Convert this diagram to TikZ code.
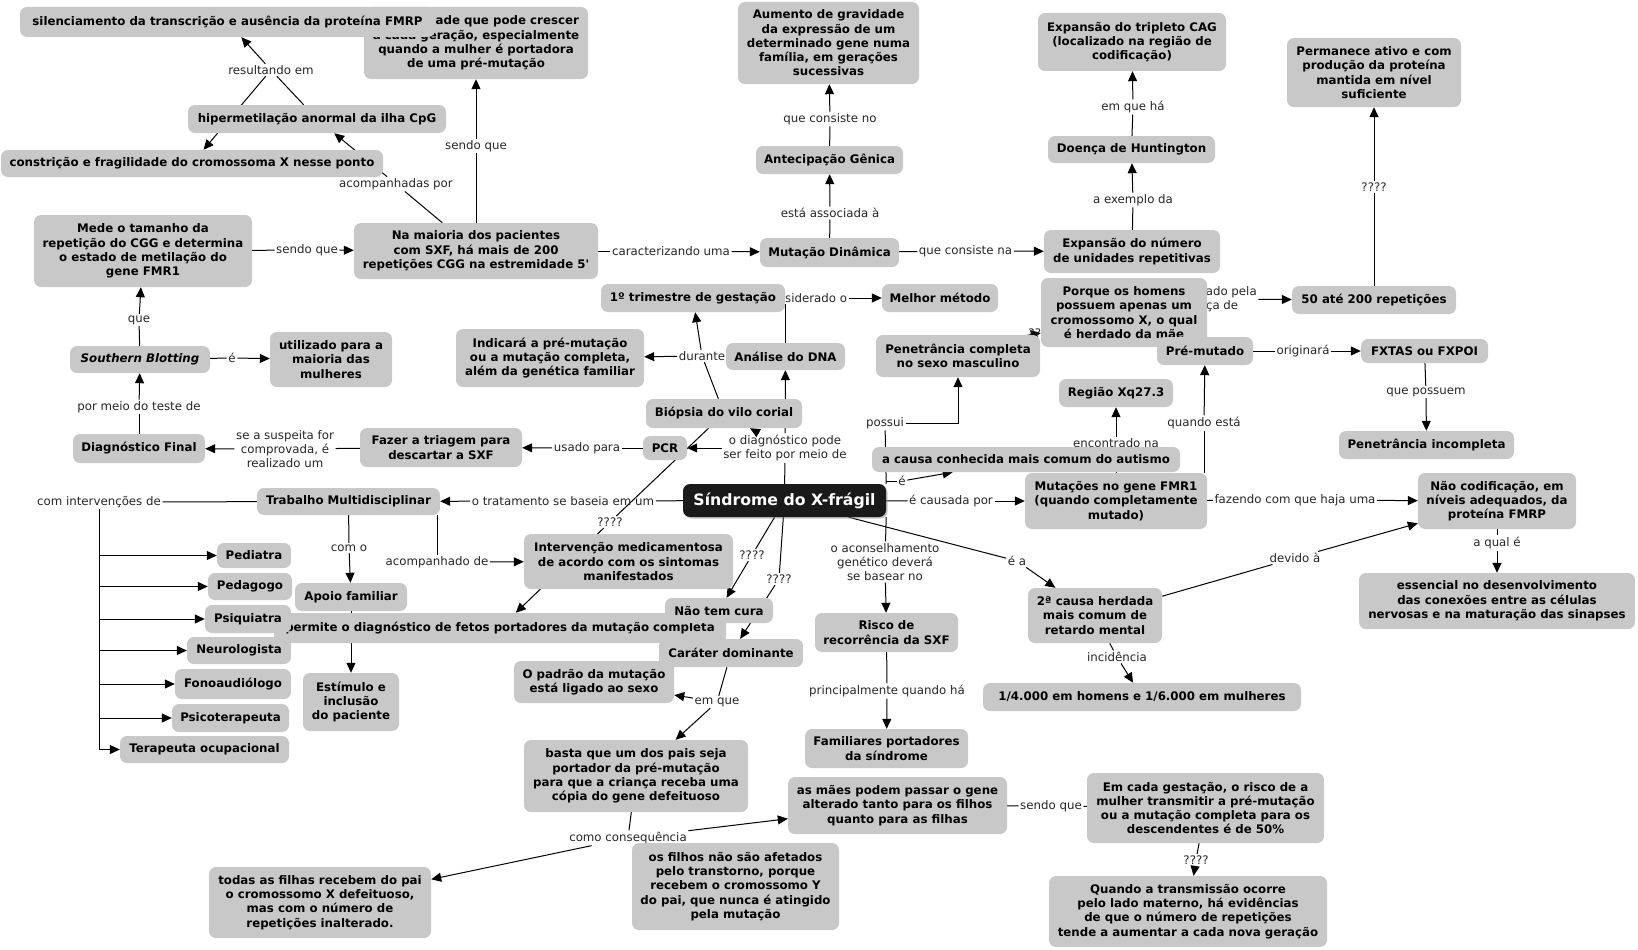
\documentclass[tikz,border=0pt]{standalone}
\usepackage{fontspec}
\setmainfont{DejaVu Sans}
\usetikzlibrary{arrows.meta,shadows}
\definecolor{conceptgray}{RGB}{200,200,200}
\definecolor{rootblack}{RGB}{26,26,26}
\tikzstyle{concept} = [rectangle, rounded corners=7pt, fill=conceptgray, inner sep=0pt,
    align=center, font=\bfseries\fontsize{11.8}{14.3}\selectfont]
\tikzstyle{root} = [concept, fill=rootblack, text=white, font=\bfseries\fontsize{15.7}{18}\selectfont,
    drop shadow={shadow xshift=1.5pt, shadow yshift=-1.5pt, fill=black!45}]
\tikzstyle{link} = [inner sep=1.5pt, align=center, text=black!85, font=\fontsize{11.8}{14.3}\selectfont]
\tikzstyle{joint} = [draw, line width=1pt]
\tikzstyle{line} = [draw, line width=1pt, -{Triangle[length=10pt,width=9pt]}]
\tikzset{wh/.style 2 args={minimum width=#1pt, minimum height=#2pt}}
\pgfdeclarelayer{bg}
\pgfsetlayers{bg,main}

\begin{document}
\begin{tikzpicture}[x=1pt, y=-1pt]
    \useasboundingbox (0,0) rectangle (1638,950);
    % Place linking phrases
    \node [link] (resultando) at (271,70) {resultando em};
    \node [link] (acompanhadas) at (396,184) {acompanhadas por};
    \node [link] (sendoque1) at (307,250) {sendo que};
    \node [link] (sendoque2) at (476,146) {sendo que};
    \node [link] (caracterizando) at (671,251) {caracterizando uma};
    \node [link] (associada) at (830,213) {está associada à};
    \node [link] (consisteno) at (830,119) {que consiste no};
    \node [link] (consistena) at (965.5,251) {que consiste na};
    \node [link] (exemplo) at (1133,200) {a exemplo da};
    \node [link] (emqueha) at (1133,107) {em que há};
    \node [link] (qqq1) at (1374,187) {????};
    \node [link] (caracterizado) at (1202,299) {caracterizado pela\\presença de};
    \node [link] (considerado) at (805.5,298) {considerado o};
    \node [link] (durante) at (702,356) {durante};
    \node [link] (odiag) at (785,448) {o diagnóstico pode\\ser feito por meio de};
    \node [link] (usado) at (587,448) {usado para};
    \node [link] (suspeita) at (285,449) {se a suspeita for\\comprovada, é\\realizado um};
    \node [link] (pormeio) at (139,407) {por meio do teste de};
    \node [link] (queSB) at (139,320) {que};
    \node [link] (eSB) at (232,358) {é};
    \node [link] (tratamento) at (563,501) {o tratamento se baseia em um};
    \node [link] (cominterv) at (99,502) {com intervenções de};
    \node [link] (como) at (349,548) {com o};
    \node [link] (acompde) at (437,562) {acompanhado de};
    \node [link] (qqq2) at (610,522) {????};
    \node [link] (qqq3) at (752,555) {????};
    \node [link] (qqq4) at (779,579) {????};
    \node [link] (emque) at (717,702) {em que};
    \node [link] (consequencia) at (628,838) {como consequência};
    \node [link] (sendoque3) at (1051,806) {sendo que};
    \node [link] (qqq5) at (1196,860) {????};
    \node [link] (principalmente) at (887,691) {principalmente quando há};
    \node [link] (aconselh) at (885,562) {o aconselhamento\\genético deverá\\se basear no};
    \node [link] (possui) at (885,423) {possui};
    \node [link] (eaut) at (902,481) {é};
    \node [link] (causada) at (951,501) {é causada por};
    \node [link] (ea) at (1017,561) {é a};
    \node [link] (qqq6) at (1041,333) {????};
    \node [link] (encontrado) at (1116,443) {encontrado na};
    \node [link] (quandoesta) at (1204,423) {quando está};
    \node [link] (originara) at (1303,351) {originará};
    \node [link] (quepossuem) at (1426,392) {que possuem};
    \node [link] (fazendo) at (1295,500) {fazendo com que haja uma};
    \node [link] (devido) at (1295,558) {devido à};
    \node [link] (aqual) at (1497,543) {a qual é};
    \node [link] (incidencia) at (1117,657) {incidência};
    % Place concepts
    \node [concept, wh={224}{72}] (instab) at (476,43) {Instabilidade que pode crescer\\a cada geração, especialmente\\quando a mulher é portadora\\de uma pré-mutação};
    \node [concept, wh={415}{30}] (silenc) at (227.5,22) {silenciamento da transcrição e ausência da proteína FMRP};
    \node [concept, wh={258}{28}] (hiperm) at (317,119) {hipermetilação anormal da ilha CpG};
    \node [concept, wh={382}{27}] (constr) at (192,163.5) {constrição e fragilidade do cromossoma X nesse ponto};
    \node [concept, wh={218}{72}] (mede) at (143,251) {Mede o tamanho da\\repetição do CGG e determina\\o estado de metilação do\\gene FMR1};
    \node [concept, wh={244}{56}] (maioria) at (476,251) {Na maioria dos pacientes\\com SXF, há mais de 200\\repetições CGG na estremidade 5\textquotesingle};
    \node [concept, wh={139}{29}] (mutdin) at (829.5,252.5) {Mutação Dinâmica};
    \node [concept, wh={147}{28}] (antecip) at (829.5,160) {Antecipação Gênica};
    \node [concept, wh={181}{82}] (aumento) at (828.5,43) {Aumento de gravidade\\da expressão de um\\determinado gene numa\\família, em gerações\\sucessivas};
    \node [concept, wh={176}{43}] (expnum) at (1132,251.5) {Expansão do número\\de unidades repetitivas};
    \node [concept, wh={167}{27}] (hunting) at (1131.5,149.5) {Doença de Huntington};
    \node [concept, wh={188}{58}] (cag) at (1132,42) {Expansão do tripleto CAG\\(localizado na região de\\codificação)};
    \node [concept, wh={174}{69}] (permanece) at (1374,72.5) {Permanece ativo e com\\produção da proteína\\mantida em nível\\suficiente};
    \node [concept, wh={164}{28}] (rep50) at (1374,300) {50 até 200 repetições};
    \node [concept, wh={184}{28}] (trimestre) at (693,298) {1º trimestre de gestação};
    \node [concept, wh={116}{28}] (melhor) at (940,298) {Melhor método};
    \node [concept, wh={119}{27}] (analise) at (785.5,356.5) {Análise do DNA};
    \node [concept, wh={188}{58}] (indicara) at (550,358) {Indicará a pré-mutação\\ou a mutação completa,\\além da genética familiar};
    \node [concept, wh={156}{29}] (biopsia) at (724,413.5) {Biópsia do vilo corial};
    \node [concept, wh={44}{24}] (pcr) at (665,448) {PCR};
    \node [concept, wh={162}{39}] (fazer) at (441,447.5) {Fazer a triagem para\\descartar a SXF};
    \node [concept, wh={132}{29}] (diagfinal) at (139,448.5) {Diagnóstico Final};
    \node [concept, wh={140}{27}] (southern) at (140,359.5) {\textit{Southern Blotting}};
    \node [concept, wh={122}{55}] (utilizado) at (331,359.5) {utilizado para a\\maioria das\\mulheres};
    \node [concept, wh={183}{27}] (trabalho) at (348.5,501.5) {Trabalho Multidisciplinar};
    \node [concept, wh={112}{28}] (apoio) at (351,597) {Apoio familiar};
    \node [concept, wh={452}{30}] (permite) at (500,628) {permite o diagnóstico de fetos portadores da mutação completa};
    \node [concept, wh={74}{25}] (pediatra) at (254,555.5) {Pediatra};
    \node [concept, wh={84}{27}] (pedagogo) at (250,586.5) {Pedagogo};
    \node [concept, wh={86}{28}] (psiquiatra) at (248,619) {Psiquiatra};
    \node [concept, wh={104}{27}] (neuro) at (239,650.5) {Neurologista};
    \node [concept, wh={116}{30}] (fono) at (233,684) {Fonoaudiólogo};
    \node [concept, wh={117}{28}] (psicot) at (230.5,718) {Psicoterapeuta};
    \node [concept, wh={169}{27}] (terapeuta) at (204.5,749.5) {Terapeuta ocupacional};
    \node [concept, wh={96}{58}] (estimulo) at (351,702) {Estímulo e\\inclusão\\do paciente};
    \node [concept, wh={209}{55}] (interv) at (628.5,561.5) {Intervenção medicamentosa\\de acordo com os sintomas\\manifestados};
    \node [concept, wh={108}{25}] (naocura) at (719,610.5) {Não tem cura};
    \node [concept, wh={144}{28}] (carater) at (731,653) {Caráter dominante};
    \node [concept, wh={160}{42}] (padrao) at (594,682) {O padrão da mutação\\está ligado ao sexo};
    \node [concept, wh={224}{72}] (basta) at (636,776) {basta que um dos pais seja\\portador da pré-mutação\\para que a criança receba uma\\cópia do gene defeituoso};
    \node [concept, wh={222}{71}] (todas) at (320,902.5) {todas as filhas recebem do pai\\o cromossomo X defeituoso,\\mas com o número de\\repetições inalterado.};
    \node [concept, wh={207}{87}] (filhos) at (735.5,886.5) {os filhos não são afetados\\pelo transtorno, porque\\recebem o cromossomo Y\\do pai, que nunca é atingido\\pela mutação};
    \node [concept, wh={219}{57}] (maes) at (897.5,805.5) {as mães podem passar o gene\\alterado tanto para os filhos\\quanto para as filhas};
    \node [concept, wh={237}{70}] (emcada) at (1205.5,808) {Em cada gestação, o risco de a\\mulher transmitir a pré-mutação\\ou a mutação completa para os\\descendentes é de 50\%};
    \node [concept, wh={278}{71}] (quando) at (1188,911.5) {Quando a transmissão ocorre\\pelo lado materno, há evidências\\de que o número de repetições\\tende a aumentar a cada nova geração};
    \node [concept, wh={143}{39}] (risco) at (886.5,632.5) {Risco de\\recorrência da SXF};
    \node [concept, wh={163}{39}] (familiares) at (886.5,748.5) {Familiares portadores\\da síndrome};
    \node [concept, wh={134}{55}] (segunda) at (1095,615.5) {2ª causa herdada\\mais comum de\\retardo mental};
    \node [concept, wh={318}{28}] (taxa) at (1142,697) {1/4.000 em homens e 1/6.000 em mulheres};
    \node [concept, wh={164}{42}] (penetc) at (958,356) {Penetrância completa\\no sexo masculino};
    \node [concept, wh={166}{69}] (porque) at (1124,312.5) {Porque os homens\\possuem apenas um\\cromossomo X, o qual\\é herdado da mãe};
    \node [concept, wh={96}{28}] (premut) at (1205,351) {Pré-mutado};
    \node [concept, wh={127}{24}] (fxtas) at (1424.5,351) {FXTAS ou FXPOI};
    \node [concept, wh={175}{28}] (penetinc) at (1426.5,445) {Penetrância incompleta};
    \node [concept, wh={114}{28}] (regiao) at (1116,393) {Região Xq27.3};
    \node [concept, wh={308}{25}] (autismo) at (1026,459.5) {a causa conhecida mais comum do autismo};
    \node [concept, wh={182}{56}] (mutacoes) at (1116,501) {Mutações no gene FMR1\\(quando completamente\\mutado)};
    \node [concept, wh={158}{56}] (naocod) at (1497,501) {Não codificação, em\\níveis adequados, da\\proteína FMRP};
    \node [concept, wh={276}{56}] (essencial) at (1497,601) {essencial no desenvolvimento\\das conexões entre as células\\nervosas e na maturação das sinapses};
    \node [root, wh={203}{33}] (sindrome) at (784.5,500.5) {Síndrome do X-frágil};
    % Draw edges
    \begin{pgfonlayer}{bg}
    \path [joint] (hiperm) -- (resultando);
    \path [line] (resultando) -- (silenc);
    \path [line] (resultando) -- (constr);
    \path [joint] (maioria) -- (acompanhadas);
    \path [line] (acompanhadas) -- (hiperm);
    \path [joint] (mede) -- (sendoque1);
    \path [line] (sendoque1) -- (maioria);
    \path [joint] (maioria) -- (sendoque2);
    \path [line] (sendoque2) -- (instab);
    \path [joint] (maioria) -- (caracterizando);
    \path [line] (caracterizando) -- (mutdin);
    \path [joint] (mutdin) -- (associada);
    \path [line] (associada) -- (antecip);
    \path [joint] (antecip) -- (consisteno);
    \path [line] (consisteno) -- (aumento);
    \path [joint] (mutdin) -- (consistena);
    \path [line] (consistena) -- (expnum);
    \path [joint] (expnum) -- (exemplo);
    \path [line] (exemplo) -- (hunting);
    \path [joint] (hunting) -- (emqueha);
    \path [line] (emqueha) -- (cag);
    \path [joint] (rep50) -- (qqq1);
    \path [line] (qqq1) -- (permanece);
    \path [joint] (premut) -- (caracterizado);
    \path [line] (caracterizado) -- (rep50);
    \path [joint] (premut) -- (originara);
    \path [line] (originara) -- (fxtas);
    \path [joint] (fxtas) -- (quepossuem);
    \path [line] (quepossuem) -- (penetinc);
    \path [joint] (mutacoes.north -| quandoesta) -- (quandoesta);
    \path [line] (quandoesta) -- (premut);
    \path [joint] (mutacoes) -- (encontrado);
    \path [line] (encontrado) -- (regiao);
    \path [joint] (mutacoes) -- (fazendo);
    \path [line] (fazendo) -- (naocod);
    \path [joint] (naocod) -- (aqual);
    \path [line] (aqual) -- (essencial);
    \path [joint] (segunda) -- (devido);
    \path [line] (devido) -- (naocod);
    \path [joint] (segunda) -- (incidencia);
    \path [line] (incidencia) -- (taxa);
    \path [joint] (sindrome) -- (causada);
    \path [line] (causada) -- (mutacoes);
    \path [joint] (sindrome) -- (ea);
    \path [line] (ea) -- (segunda);
    \path [joint] (sindrome.east |- eaut) -- (eaut);
    \path [line] (eaut) -- (autismo);
    \path [joint] (sindrome.north east) -- (possui);
    \path [line] (possui) -| (penetc);
    \path [joint] (penetc) -- (qqq6);
    \path [line] (qqq6) -- (porque);
    \path [joint] (sindrome.south east) -- (aconselh);
    \path [line] (aconselh) -- (risco);
    \path [joint] (risco) -- (principalmente);
    \path [line] (principalmente) -- (familiares);
    \path [joint] (sindrome) -- (odiag);
    \path [line] (odiag) -- (analise);
    \path [line] (odiag) -- (pcr);
    \path [line] (odiag) -- (biopsia);
    \path [joint] (analise.north) -- (analise.north |- considerado.south);
    \path [line] (considerado) -- (melhor);
    \path [joint] (biopsia) -- (durante);
    \path [line] (durante) -- (trimestre);
    \path [line] (durante) -- (indicara);
    \path [joint] (biopsia) -- (qqq2);
    \path [line] (qqq2) -- (permite);
    \path [joint] (pcr) -- (usado);
    \path [line] (usado) -- (fazer);
    \path [joint] (fazer) -- (suspeita);
    \path [line] (suspeita) -- (diagfinal);
    \path [joint] (diagfinal) -- (pormeio);
    \path [line] (pormeio) -- (southern);
    \path [joint] (southern) -- (queSB);
    \path [line] (queSB) -- (mede);
    \path [joint] (southern) -- (eSB);
    \path [line] (eSB) -- (utilizado);
    \path [joint] (sindrome) -- (tratamento);
    \path [line] (tratamento) -- (trabalho);
    \path [joint] (trabalho) -- (cominterv);
    \path [line] (cominterv.south) |- (terapeuta);
    \foreach \prof in {pediatra, pedagogo, psiquiatra, neuro, fono, psicot}
        \path [line] (cominterv.south |- \prof) -- (\prof);
    \path [joint] (trabalho) -- (como);
    \path [line] (como) -- (apoio);
    \path [joint] (trabalho.south -| acompde) -- (acompde);
    \path [line] (acompde) -- (interv);
    \path [line] (apoio) -- (estimulo);
    \path [joint] (sindrome) -- (qqq3);
    \path [line] (qqq3) -- (naocura);
    \path [joint] (sindrome) -- (qqq4);
    \path [line] (qqq4) -- (carater);
    \path [joint] (carater) -- (emque);
    \path [line] (emque) -- (padrao);
    \path [line] (emque) -- (basta);
    \path [joint] (basta) -- (consequencia);
    \path [line] (consequencia) -- (maes);
    \path [line] (consequencia) -- (todas);
    \path [joint] (maes) -- (sendoque3);
    \path [joint] (sendoque3) -- (emcada);
    \path [joint] (emcada) -- (qqq5);
    \path [line] (qqq5) -- (quando);
    \end{pgfonlayer}
\end{tikzpicture}
\end{document}
